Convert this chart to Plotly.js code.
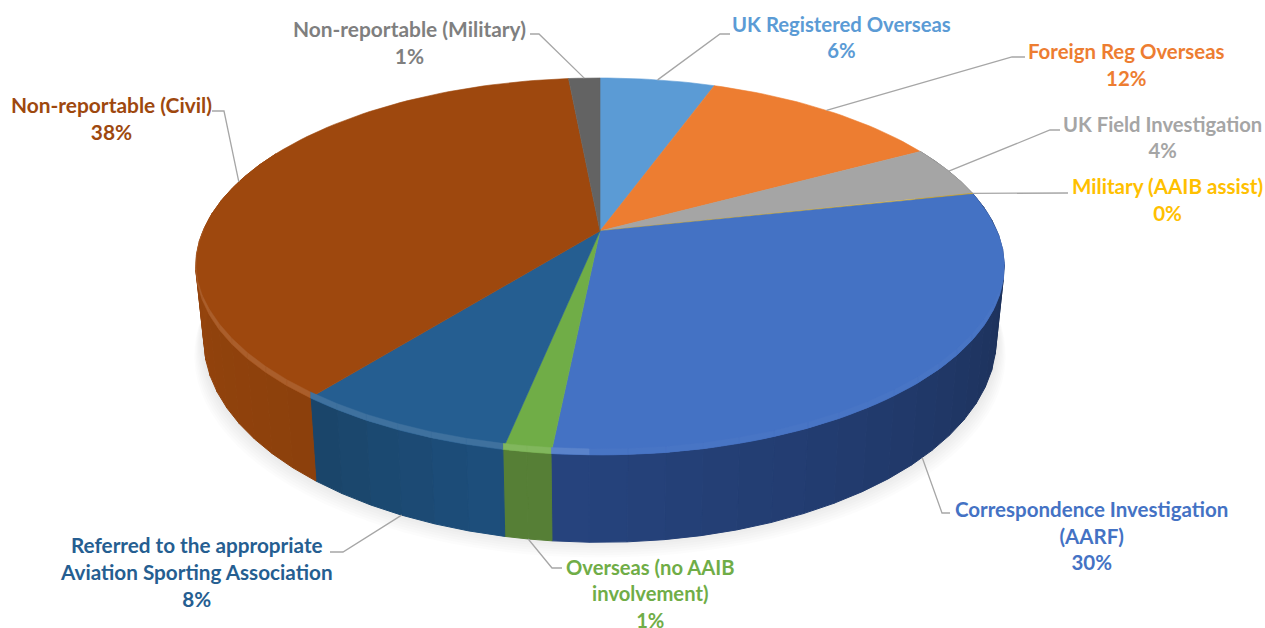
<!DOCTYPE html>
<html>
<head>
<meta charset="utf-8">
<script src="https://cdn.plot.ly/plotly-3.0.1.min.js"></script>
<style>html,body{margin:0;padding:0;background:#fff}#chart{width:1265px;height:628px}</style>
</head>
<body>
<div id="chart"></div>
<script>
// ---- data ----
const categories = ["UK Registered Overseas","Foreign Reg Overseas","UK Field Investigation","Military (AAIB assist)","Correspondence Investigation<br>(AARF)","Overseas (no AAIB<br>involvement)","Referred to the appropriate<br>Aviation Sporting Association","Non-reportable (Civil)","Non-reportable (Military)"];
const values = [5.5, 11.6, 4.4, 0.1, 30, 1.6, 7.5, 37.8, 1.5];
const percentLabels = ["6%","12%","4%","0%","30%","1%","8%","38%","1%"];

// ---- styles ----
const topColors  = ["#5B9BD5","#ED7D31","#A5A5A5","#FFC000","#4472C4","#70AD47","#255E91","#9E480E","#636363"];
const wallStart  = ["#3a6a95","#a5571f","#737373","#b28600","#26437e","#567f36","#1d4f7d","#8c400c","#454545"];
const wallEnd    = ["#3a6a95","#a5571f","#737373","#b28600","#1a2b50","#567f36","#1a4468","#a44b0e","#454545"];
const textColors = ["#5B9BD5","#ED7D31","#A5A5A5","#FFC000","#4472C4","#70AD47","#255E91","#9E480E","#7f7f7f"];
const labelCenterX = [841,1126,1162,1167,1091,650,196,111,409];
const labelCenterY = [37,64,137,199,535,593,572,118,42];
const labelSize = [20.3,20.4,20.2,20.6,20.5,20.2,20.7,20.9,20.9];
// elbow of each leader line and where it meets the label
const elbowX = [720,1012,1050,null,942,552,343,224,539];
const elbowY = [34,57,130,null,513,568,552,111,34];
const leaderX = [730,1025,1060,1068,950,562,330,212,530];
const leaderY = [34,57,130,193,513,568,552,111,34];
const leaderOnBase = [false,false,false,false,true,true,true,false,false];
const leaderFrac = [0.5,0.5,0.5,0.5,0.52,0.5,0.5,0.5,0.5];

// ---- perspective disc ----
const cx=600, cy=231, a=397, b=181.8, k=0.188, depth=71, baseShrink=0.98, bevel=6;
function proj(t,r,z){
  const u=r*Math.sin(t), v=r*Math.cos(t), w=1+k*v;
  return [cx+a*u/w*(z?baseShrink:1), cy-b*v/w+(z?depth/w:0)];
}
function hex(c){return [1,3,5].map(i=>parseInt(c.substr(i,2),16));}
function mix(c1,c2,f){const A=hex(c1),B=hex(c2);return 'rgb('+A.map((x,i)=>Math.round(x+(B[i]-x)*f)).join(',')+')';}
const total=values.reduce((s,x)=>s+x,0);
const toAngle=p=>p/total*2*Math.PI;
const STEP=Math.PI/120;
const traces=[];
function poly(pts,fill,w){
  traces.push({type:'scatter',mode:'lines',x:pts.map(p=>p[0]),y:pts.map(p=>p[1]),
    fill:'toself',fillcolor:fill,line:{color:fill,width:w===undefined?1:w},hoverinfo:'skip',showlegend:false});
}
// soft shadow under the base
for(let s=0;s<9;s++){
  const pts=[];
  for(let i=0;i<=120;i++){const t=i/120*2*Math.PI;const p=proj(t,1,true);
    pts.push([cx+(p[0]-cx)*(1+s*0.003), p[1]+s*2.4-4]);}
  traces.push({type:'scatter',mode:'lines',x:pts.map(p=>p[0]),y:pts.map(p=>p[1]),fill:'toself',
    fillcolor:'rgba(120,120,120,0.022)',line:{width:0},hoverinfo:'skip',showlegend:false});
}
// walls
let acc=0;
values.forEach((val,i)=>{
  const t0=toAngle(acc),t1=toAngle(acc+val);
  const n=Math.max(1,Math.ceil((t1-t0)/(STEP*3)));
  for(let j=0;j<n;j++){
    const s0=t0+(t1-t0)*j/n,s1=t0+(t1-t0)*(j+1)/n;
    if(Math.cos((s0+s1)/2)>0.45) continue;
    poly([proj(s0,1,false),proj(s1,1,false),proj(s1,1,true),proj(s0,1,true),proj(s0,1,false)],
      mix(wallStart[i],wallEnd[i],val>5?(i===4?1-(j+.5)/n:(j+.5)/n):0));
  }
  acc+=val;
});
// top faces
acc=0;
values.forEach((val,i)=>{
  const t0=toAngle(acc),t1=toAngle(acc+val);
  const pts=[proj(0,0,false)];
  const n=Math.max(2,Math.ceil((t1-t0)/STEP));
  for(let j=0;j<=n;j++) pts.push(proj(t0+(t1-t0)*j/n,1,false));
  pts.push(proj(0,0,false));
  poly(pts,topColors[i],0.6);
  acc+=val;
});
// lit bevel along the front edge; its height fades to nothing at the sides
acc=0;
const bevelH=s=>bevel*Math.min(1,Math.max(0,-Math.cos(s))*2.2);
values.forEach((val,i)=>{
  const t0=toAngle(acc),t1=toAngle(acc+val);
  const n=Math.max(1,Math.ceil((t1-t0)/(STEP*3)));
  for(let j=0;j<n;j++){
    const s0=t0+(t1-t0)*j/n,s1=t0+(t1-t0)*(j+1)/n,m=(s0+s1)/2;
    if(Math.cos(m)>=0) continue;
    const f=Math.sin(m)<0?0.12:0.02;
    const p0=proj(s0,1,false),p1=proj(s1,1,false);
    poly([[p0[0],p0[1]-bevelH(s0)],[p1[0],p1[1]-bevelH(s1)],p1,p0,[p0[0],p0[1]-bevelH(s0)]],mix(topColors[i],'#ffffff',f),0.4);
  }
  acc+=val;
});
// leader lines
acc=0;
values.forEach((val,i)=>{
  const mid=toAngle(acc+val*leaderFrac[i]);
  const end=proj(mid,1,leaderOnBase[i]);
  const xs=[leaderX[i]],ys=[leaderY[i]];
  if(elbowX[i]!==null){xs.push(elbowX[i]);ys.push(elbowY[i]);}
  xs.push(end[0]);ys.push(end[1]);
  traces.push({type:'scatter',mode:'lines',x:xs,y:ys,line:{color:'#a6a6a6',width:1.3},hoverinfo:'skip',showlegend:false});
  acc+=val;
});
const annotations=categories.map((c,i)=>({
  x:labelCenterX[i],y:labelCenterY[i],xref:'x',yref:'y',xanchor:'center',yanchor:'middle',
  showarrow:false,align:'center',text:c+'<br>'+percentLabels[i],
  font:{family:'Lato, Carlito, sans-serif',size:labelSize[i],color:textColors[i],weight:700}
}));
Plotly.newPlot('chart',traces,{
  width:1265,height:628,margin:{l:0,r:0,t:0,b:0},
  paper_bgcolor:'#ffffff',plot_bgcolor:'#ffffff',showlegend:false,
  xaxis:{range:[0,1265],visible:false,fixedrange:true},
  yaxis:{range:[628,0],visible:false,fixedrange:true},
  annotations:annotations
},{displayModeBar:false,staticPlot:true});
</script>
</body>
</html>
